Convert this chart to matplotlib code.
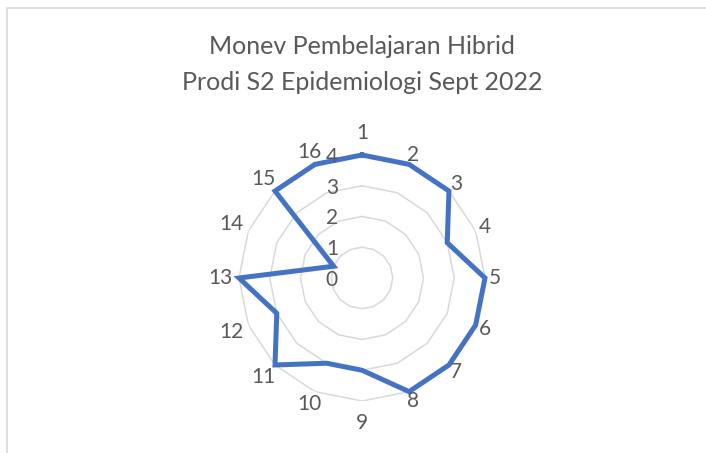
import numpy as np
import matplotlib
matplotlib.use('Agg')
import matplotlib.pyplot as plt
import matplotlib.patches as patches

# Data
categories = [str(i) for i in range(1, 17)]
values = [4, 4, 4, 3, 4, 4, 4, 4, 3, 3, 4, 3, 4, 1, 4, 4]
ring_levels = [0, 1, 2, 3, 4]
title_lines = ["Monev Pembelajaran Hibrid", "Prodi S2 Epidemiologi Sept 2022"]

plt.rcParams['font.family'] = ['Lato', 'DejaVu Sans']
text_col = '#595959'
grid_col = '#D9D9D9'
line_col = '#4472C4'

W, H = 706, 453
fig = plt.figure(figsize=(W / 100, H / 100), dpi=100)

# Chart border (only top and left visible in the crop)
fig.add_artist(patches.Rectangle((6.5 / W, -0.2), 2.0, 1.2 - 7.5 / H,
                                 transform=fig.transFigure, fill=False,
                                 edgecolor=grid_col, linewidth=1.2))

# Polar axes placed so that center ~ (362, 278) px and r=4 -> 123 px
cx, cy, R = 362, 278, 123
ax = fig.add_axes([(cx - R) / W, (H - cy - R) / H, 2 * R / W, 2 * R / H],
                  projection='polar')
ax.set_theta_zero_location('N')
ax.set_theta_direction(-1)
ax.set_ylim(0, max(ring_levels))
ax.grid(False)
ax.spines['polar'].set_visible(False)
ax.set_xticks([])
ax.set_yticks([])
ax.patch.set_alpha(0)

n = len(categories)
theta = np.arange(n) * 2 * np.pi / n
theta_closed = np.append(theta, theta[0])

# polygon gridlines
for lv in ring_levels[1:]:
    ax.plot(theta_closed, [lv] * (n + 1), color=grid_col, lw=1.1, zorder=1)

# data line
vals_closed = values + values[:1]
ax.plot(theta_closed, vals_closed, color=line_col, lw=3.6,
        solid_joinstyle='miter', zorder=3, clip_on=False)

# category labels (centered, pushed out from the outer ring)
for t, lab in zip(theta, categories):
    s, c = np.sin(t), np.cos(t)
    if abs(s) < 0.01:
        d = 22
    else:
        d = 10 + 9 * (len(lab) - 1) * abs(s)
    ax.annotate(lab, xy=(t, 4), xytext=(d * s, d * c), textcoords='offset pixels',
                ha='center', va='center', fontsize=15, color=text_col,
                annotation_clip=False)

# radial value labels, left of the vertical axis
for lv in ring_levels:
    ax.annotate(str(lv), xy=(0, lv), xytext=(-24, -2), textcoords='offset pixels',
                ha='right', va='center', fontsize=15, color=text_col,
                annotation_clip=False)

# title
fig.text(cx / W, 1 - 47 / H, title_lines[0], ha='center', va='center',
         fontsize=18, color=text_col)
fig.text(cx / W, 1 - 82 / H, title_lines[1], ha='center', va='center',
         fontsize=18, color=text_col)

fig.savefig('out.png', dpi=100)
